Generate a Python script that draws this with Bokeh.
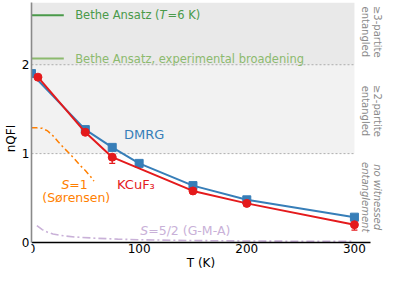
import math
from bokeh.plotting import figure
from bokeh.models import Label, Whisker, TeeHead, ColumnDataSource, FixedTicker
from bokeh.embed import file_html
from bokeh.resources import INLINE

# ---------------- data ----------------
dmrg_T = [0, 50, 75, 100, 150, 200, 300]
dmrg_nqfi = [1.90, 1.27, 1.07, 0.89, 0.64, 0.48, 0.285]

kcuf3_T = [6, 50, 75, 150, 200, 300]
kcuf3_nqfi = [1.86, 1.24, 0.96, 0.58, 0.44, 0.20]
kcuf3_err = [0.06, 0.03, 0.07, 0.03, 0.03, 0.06]

s1_T = [0, 5, 10, 15, 20, 25, 30, 35, 40, 45, 50, 55, 58]
s1_nqfi = [1.29, 1.29, 1.285, 1.255, 1.20, 1.13, 1.065, 1.005, 0.94, 0.87, 0.81, 0.74, 0.69]

gma_T = [5, 10, 15, 20, 30, 40, 60, 80, 100, 150, 200, 250, 300]
gma_nqfi = [0.19, 0.145, 0.115, 0.095, 0.075, 0.062, 0.048, 0.038, 0.031, 0.022, 0.017, 0.014, 0.012]

bethe_T6 = 2.556
bethe_broad = 2.07

region_bottom = [1, 2]
region_top = [2, 2.7]
region_labels = ["\u22652-partite\nentangled", "\u22653-partite\nentangled"]
region_label_y = [1.48, 2.37]
no_ent_label = "no witnessed\nentanglement"

x_ticks = [0, 100, 200, 300]
y_ticks = [0, 1, 2]

# ---------------- style ----------------
BLUE = "#377eb8"
RED = "#e41a1c"
ORANGE = "#ff7f00"
PURPLE = "#c9b1d8"
DGREEN = "#4a9a4a"
LGREEN = "#8cba6e"
GRAYTXT = "#8a8a8a"
FONT = "DejaVu Sans"

# DejaVu Sans advance widths (em) for composing italic pieces
W = {" ": 0.318, "(": 0.390, ")": 0.390, "/": 0.337, "-": 0.361, "=": 0.838,
     "A": 0.684, "B": 0.686, "G": 0.775, "K": 0.656, "M": 0.863, "S": 0.635, "T": 0.611,
     "a": 0.613, "e": 0.615, "h": 0.634, "n": 0.634, "s": 0.521, "t": 0.392, "z": 0.525,
     "r": 0.411, "\u00f8": 0.612}
for d in "0123456789":
    W[d] = 0.636


def tw(s, size):
    return sum(W.get(c, 0.6) for c in s) * size


p = figure(width=383, height=274, x_range=(0, 327), y_range=(-0.36, 2.7),
           output_backend="svg", toolbar_location=None,
           min_border_left=24, min_border_right=0, min_border_top=2, min_border_bottom=0)
p.outline_line_color = None
p.xgrid.visible = False
p.ygrid.visible = False
p.background_fill_color = "white"

# shaded regions
p.quad(left=[0, 0], right=[300, 300], bottom=region_bottom, top=region_top,
       fill_color=["#f2f2f2", "#e9e9e9"], line_color=None)
for yb in region_bottom:
    p.line([0, 300], [yb, yb], line_color="#9a9a9a", line_width=0.8, line_dash="2 2")

# Bethe Ansatz reference lines
p.line([0, 30], [bethe_T6, bethe_T6], line_color=DGREEN, line_width=2)
p.line([0, 30], [bethe_broad, bethe_broad], line_color=LGREEN, line_width=2)

# theory curves
p.line(s1_T, s1_nqfi, line_color=ORANGE, line_width=1.5, line_dash="6 3 2 3")
p.line(gma_T, gma_nqfi, line_color=PURPLE, line_width=1.6, line_dash="8 3 2 3")

# DMRG
p.line(dmrg_T, dmrg_nqfi, line_color=BLUE, line_width=2)
p.scatter(dmrg_T, dmrg_nqfi, marker="square", size=8, fill_color=BLUE, line_color=BLUE)

# KCuF3
src = ColumnDataSource(dict(x=kcuf3_T, y=kcuf3_nqfi,
                            lo=[a - b for a, b in zip(kcuf3_nqfi, kcuf3_err)],
                            hi=[a + b for a, b in zip(kcuf3_nqfi, kcuf3_err)]))
p.line("x", "y", source=src, line_color=RED, line_width=2)
p.add_layout(Whisker(source=src, base="x", lower="lo", upper="hi", line_color=RED, line_width=1.3,
                     lower_head=TeeHead(size=6, line_color=RED, line_width=1.3),
                     upper_head=TeeHead(size=6, line_color=RED, line_width=1.3)))
p.scatter("x", "y", source=src, marker="circle", size=8, fill_color=RED, line_color=RED)


def lab(x, y, text, color, size, align="left", style="normal", xo=0, angle=0.0, baseline="middle", lh=1.2):
    p.add_layout(Label(x=x, y=y, text=text, text_color=color, text_font=FONT,
                       text_font_size=f"{size}px", text_align=align, text_baseline=baseline,
                       text_font_style=style, x_offset=xo, angle=angle, text_line_height=lh))


# Bethe labels
fs = 11.5
lab(40.6, bethe_T6, "Bethe Ansatz (", DGREEN, fs)
o1 = tw("Bethe Ansatz (", fs)
lab(40.6, bethe_T6, "T", DGREEN, fs, style="italic", xo=o1)
lab(40.6, bethe_T6, "=6 K)", DGREEN, fs, xo=o1 + tw("T", fs) + 1)
lab(40.6, bethe_broad, "Bethe Ansatz, experimental broadening", LGREEN, fs)

# series labels
lab(104.6, 1.22, "DMRG", BLUE, 13, align="center")
lab(97, 0.655, "KCuF\u2083", RED, 13, align="center")

fs2 = 12.5
wtot = tw("S=1", fs2)
lab(40, 0.655, "S", ORANGE, fs2, style="italic", xo=-wtot / 2)
lab(40, 0.655, "=1", ORANGE, fs2, xo=-wtot / 2 + tw("S", fs2))
lab(41.6, 0.506, "(S\u00f8rensen)", ORANGE, fs2, align="center")

wtot2 = tw("S=5/2 (G-M-A)", fs2)
lab(143, 0.13, "S", PURPLE, fs2, style="italic", xo=-wtot2 / 2)
lab(143, 0.13, "=5/2 (G-M-A)", PURPLE, fs2, xo=-wtot2 / 2 + tw("S", fs2))

# region labels on right (rotated)
for t, yy in zip(region_labels, region_label_y):
    lab(315.5, yy, t, GRAYTXT, 10, align="center", angle=-math.pi / 2, lh=1.1)
lab(315.5, 0.51, no_ent_label, GRAYTXT, 10, align="center", style="italic", angle=-math.pi / 2, lh=1.1)

# axes
p.xaxis.ticker = FixedTicker(ticks=x_ticks)
p.yaxis.ticker = FixedTicker(ticks=y_ticks)
p.xaxis.axis_label = "T (K)"
p.yaxis.axis_label = "nQFI"
for ax in (p.xaxis, p.yaxis):
    ax.axis_label_text_font = FONT
    ax.axis_label_text_font_style = "normal"
    ax.axis_label_text_font_size = "12px"
    ax.axis_label_text_color = "black"
    ax.major_label_text_font = FONT
    ax.major_label_text_font_size = "12px"
    ax.major_label_text_color = "black"
    ax.major_tick_out = 0
    ax.major_tick_in = 0
    ax.minor_tick_line_color = None
    ax.major_label_standoff = 1
    ax.axis_label_standoff = 0
p.yaxis.major_label_standoff = 2
p.yaxis.axis_label_standoff = 1
p.xaxis.fixed_location = 0
p.xaxis.bounds = (0, 315)
p.yaxis.bounds = (0, 2.7)
p.xaxis.axis_line_color = "black"
p.xaxis.axis_line_width = 1.3
p.yaxis.axis_line_color = "#8a8a8a"
p.yaxis.axis_line_width = 1.6

open("out.html", "w").write(file_html(p, INLINE))
